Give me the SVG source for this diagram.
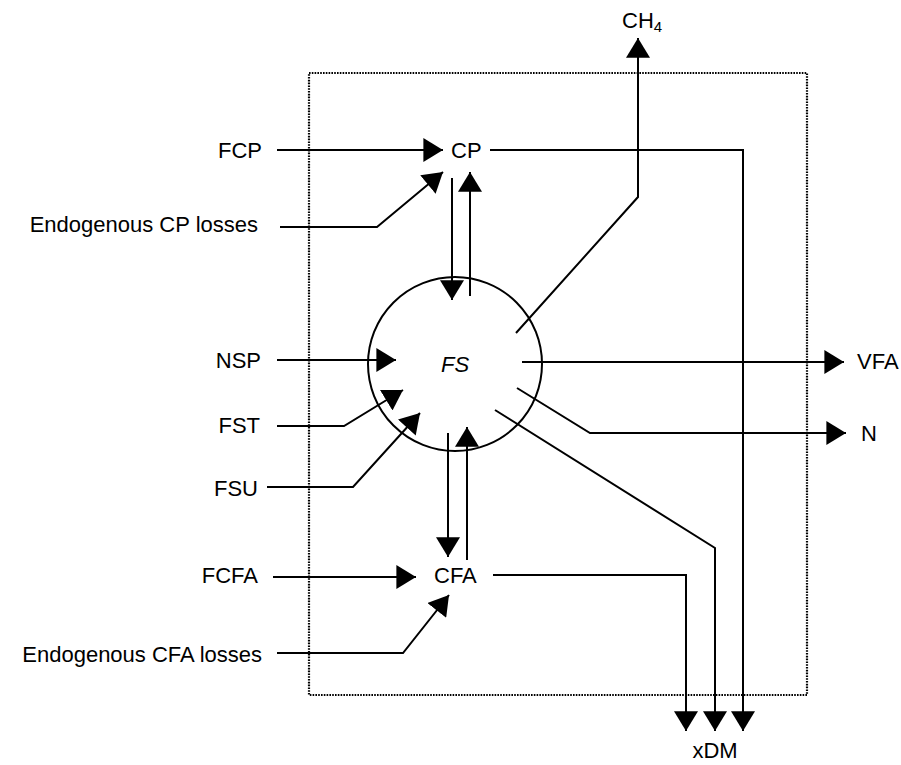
<svg xmlns="http://www.w3.org/2000/svg" width="901" height="765" viewBox="0 0 901 765">
<style>
text{font-family:"Liberation Sans",Arial,sans-serif;font-size:22px;fill:#000}
.c{fill:none;stroke:#000;stroke-width:2}
.a{marker-end:url(#ah)}
.box{fill:none;stroke:#000;stroke-width:2.2;stroke-dasharray:1.6 1.2}
</style>
<defs>
<marker id="ah" markerUnits="userSpaceOnUse" markerWidth="20" markerHeight="24" viewBox="0 0 18 22" refX="18" refY="11" orient="auto">
<path d="M0,0 L18,11 L0,22 z" fill="#000"/>
</marker>
</defs>
<rect class="box" x="309" y="73" width="498" height="622"/>
<g id="FS"><circle cx="455" cy="364" r="87" fill="none" stroke="#000" stroke-width="2"/><text x="455" y="372" text-anchor="middle" font-style="italic">FS</text></g>
<g id="CP"><text x="451" y="158">CP</text></g>
<g id="CFA"><text x="434" y="583">CFA</text></g>
<g id="CH4"><text x="622" y="28">CH<tspan font-size="15" dy="4">4</tspan></text></g>
<g id="FCP"><text x="262" y="158" text-anchor="end">FCP</text></g>
<g id="EndoCP"><text x="258" y="232" text-anchor="end">Endogenous CP losses</text></g>
<g id="NSP"><text x="261" y="368" text-anchor="end">NSP</text></g>
<g id="FST"><text x="260" y="433" text-anchor="end">FST</text></g>
<g id="FSU"><text x="258" y="496" text-anchor="end">FSU</text></g>
<g id="FCFA"><text x="258" y="583" text-anchor="end">FCFA</text></g>
<g id="EndoCFA"><text x="262" y="662" text-anchor="end">Endogenous CFA losses</text></g>
<g id="VFA"><text x="857" y="369">VFA</text></g>
<g id="N"><text x="861" y="441">N</text></g>
<g id="xDM"><text x="715" y="758" text-anchor="middle">xDM</text></g>
<g id="connectors">
<path class="c a" d="M277,150 H443"/>
<path class="c a" d="M280,227 H377 L443,172"/>
<path class="c a" d="M452,178 V300"/>
<path class="c a" d="M470,296 V172"/>
<path class="c a" d="M277,360 H396"/>
<path class="c a" d="M277,426 H344 L403,390"/>
<path class="c a" d="M267,487 H353 L420,413"/>
<path class="c a" d="M448,433 V557"/>
<path class="c a" d="M467,560 V427"/>
<path class="c a" d="M273,577 H416"/>
<path class="c a" d="M277,653 H403 L449,595"/>
<path class="c a" d="M516,333 L638,197 V38"/>
<path class="c a" d="M522,362 H844"/>
<path class="c a" d="M517,388 L590,433 H846"/>
<path class="c a" d="M490,150 H743 V731"/>
<path class="c a" d="M495,410 L715,548 V731"/>
<path class="c a" d="M493,575 H686 V731"/>
</g>
</svg>
